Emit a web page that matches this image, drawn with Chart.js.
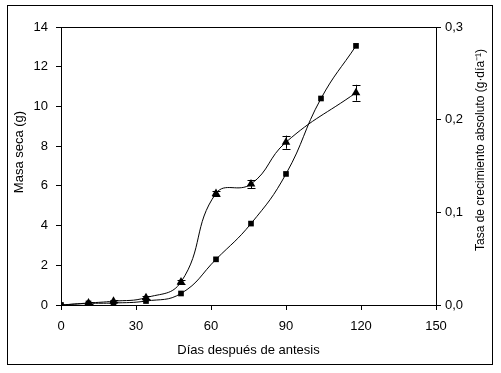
<!DOCTYPE html>
<html>
<head>
<meta charset="utf-8">
<script src="https://cdn.jsdelivr.net/npm/chart.js@4/dist/chart.umd.min.js"></script>
<style>
  html, body { margin: 0; padding: 0; background: #fff; }
  canvas { display: block; }
</style>
</head>
<body>
<canvas id="c" width="501" height="373"></canvas>
<script>
// ---- data ----
const squareDays   = [0, 11, 21, 34, 48, 62, 76, 90, 104, 118];
const squareValues = [0, 0.08, 0.1, 0.2, 0.58, 2.3, 4.1, 6.6, 10.4, 13.05];

const triangleDays   = [0, 11, 21, 34, 48, 62, 76, 90, 118];
const triangleValues = [0, 0.1, 0.19, 0.37, 1.16, 5.62, 6.09, 8.2, 10.69];
const triangleErrors = [0, 0.03, 0.05, 0.08, 0.12, 0.12, 0.2, 0.33, 0.4];

const xTicks = [0, 30, 60, 90, 120, 150];
const leftTicks = [0, 2, 4, 6, 8, 10, 12, 14];
const rightTicks = [0, 0.1, 0.2, 0.3];

const xTitle = 'Días después de antesis';
const leftTitle = 'Masa seca (g)';
const rightTitle = 'Tasa de crecimiento absoluto (g·día⁻¹)';

const FONT = "'Liberation Sans', Arial, sans-serif";

const toPts = (xs, ys) => xs.map((x, i) => ({x: x, y: ys[i]}));

const framePlugin = {
  id: 'frame',
  beforeDraw(chart) {
    const ctx = chart.ctx;
    ctx.save();
    ctx.fillStyle = '#fff';
    ctx.fillRect(0, 0, chart.width, chart.height);
    ctx.strokeStyle = '#000';
    ctx.lineWidth = 1;
    ctx.strokeRect(7.5, 5.5, 485, 359);
    ctx.restore();
  },
  afterDraw(chart) {
    const ctx = chart.ctx;
    const a = chart.chartArea;
    ctx.save();
    ctx.strokeStyle = '#000';
    ctx.lineWidth = 1;
    ctx.strokeRect(Math.round(a.left) + 0.5, Math.round(a.top) + 0.5,
                   Math.round(a.right - a.left), Math.round(a.bottom - a.top));
    ctx.fillStyle = '#000';
    ctx.textAlign = 'center';
    ctx.textBaseline = 'middle';
    // left axis title
    ctx.save();
    ctx.translate(19, 152);
    ctx.rotate(-Math.PI / 2);
    ctx.font = '13px ' + FONT;
    ctx.fillText(leftTitle, 0, 0);
    ctx.restore();
    // right axis title (reads bottom to top)
    ctx.translate(481, 150);
    ctx.rotate(-Math.PI / 2);
    ctx.font = '12px ' + FONT;
    ctx.fillText(rightTitle, 0, 0);
    ctx.restore();
  }
};

const errorBarPlugin = {
  id: 'errorbars',
  afterDatasetsDraw(chart) {
    const ctx = chart.ctx;
    const xs = chart.scales.x, ys = chart.scales.y;
    ctx.save();
    ctx.strokeStyle = '#000';
    ctx.lineWidth = 1;
    triangleDays.forEach((d, i) => {
      const e = triangleErrors[i];
      if (!e) return;
      const px = Math.round(xs.getPixelForValue(d)) + 0.5;
      const top = ys.getPixelForValue(triangleValues[i] + e);
      const bot = ys.getPixelForValue(triangleValues[i] - e);
      ctx.beginPath();
      ctx.moveTo(px, top); ctx.lineTo(px, bot);
      ctx.moveTo(px - 4, Math.round(top) + 0.5); ctx.lineTo(px + 4, Math.round(top) + 0.5);
      ctx.moveTo(px - 4, Math.round(bot) + 0.5); ctx.lineTo(px + 4, Math.round(bot) + 0.5);
      ctx.stroke();
    });
    ctx.restore();
  }
};

new Chart(document.getElementById('c'), {
  type: 'line',
  data: {
    datasets: [
      {
        label: 'Cuadrados',
        data: toPts(squareDays, squareValues),
        borderColor: '#000',
        backgroundColor: '#000',
        borderWidth: 1,
        pointStyle: 'rect',
        pointRadius: 4,
        pointBorderWidth: 0,
        tension: 0.45,
        yAxisID: 'y'
      },
      {
        label: 'Triángulos',
        data: toPts(triangleDays, triangleValues),
        borderColor: '#000',
        backgroundColor: '#000',
        borderWidth: 1,
        pointStyle: 'triangle',
        pointRadius: 5,
        pointBorderWidth: 0,
        tension: 0.45,
        yAxisID: 'y'
      }
    ]
  },
  options: {
    responsive: false,
    animation: false,
    layout: { padding: { left: 0, right: 0, top: 27, bottom: 0 } },
    plugins: { legend: { display: false }, tooltip: { enabled: false } },
    scales: {
      x: {
        type: 'linear',
        min: 0, max: 150,
        afterBuildTicks(s) { s.ticks = xTicks.map(v => ({value: v})); },
        afterFit(s) { s.height = 68; },
        grid: { drawOnChartArea: false, tickLength: 5, color: '#000' },
        border: { color: '#000' },
        ticks: { color: '#000', padding: 9, font: { family: FONT, size: 13 }, maxRotation: 0 },
        title: { display: true, text: xTitle, color: '#000', font: { family: FONT, size: 13 }, padding: { top: 0, bottom: 15 } }
      },
      y: {
        position: 'left',
        min: 0, max: 14,
        afterBuildTicks(s) { s.ticks = leftTicks.map(v => ({value: v})); },
        afterFit(s) { s.width = 61; },
        grid: { drawOnChartArea: false, tickLength: 5, color: '#000' },
        border: { color: '#000' },
        ticks: { color: '#000', padding: 8, font: { family: FONT, size: 13 } }
      },
      y2: {
        position: 'right',
        min: 0, max: 0.3,
        afterBuildTicks(s) { s.ticks = rightTicks.map(v => ({value: v})); },
        afterFit(s) { s.width = 65; },
        grid: { drawOnChartArea: false, tickLength: 5, color: '#000' },
        border: { color: '#000' },
        ticks: {
          color: '#000', padding: 4, font: { family: FONT, size: 13 },
          callback: v => v.toFixed(1).replace('.', ',')
        }
      }
    }
  },
  plugins: [framePlugin, errorBarPlugin]
});
</script>
</body>
</html>
